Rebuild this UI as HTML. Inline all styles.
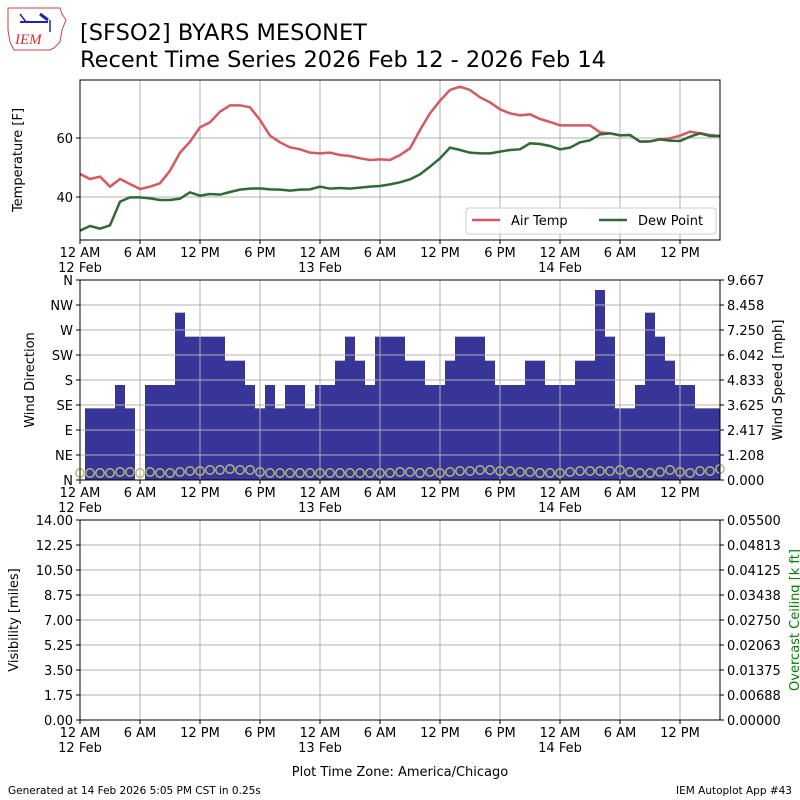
<!DOCTYPE html>
<html><head><meta charset="utf-8"><style>
html,body{margin:0;padding:0;background:#fff;}
svg{display:block;font-family:"DejaVu Sans","Liberation Sans",sans-serif;}
</style></head><body>
<svg id="s" width="800" height="800" viewBox="0 0 800 800" xmlns="http://www.w3.org/2000/svg">
<rect width="800" height="800" fill="#fff"/>
<g>
<path d="M8,8 L60,8 L62,14 L66,20 L62,30 L60,42 L54,48 L50,50 L14,50 L10,42 L8,30 Z" fill="none" stroke="#d04040" stroke-width="1"/>
<line x1="20" y1="22" x2="48" y2="22" stroke="#2020c0" stroke-width="2"/>
<line x1="20" y1="14" x2="26" y2="22" stroke="#2020c0" stroke-width="1.5"/>
<line x1="40" y1="14" x2="48" y2="20" stroke="#2020c0" stroke-width="3"/>
<line x1="50" y1="20" x2="50" y2="32" stroke="#2020c0" stroke-width="1.5"/>
<text x="15" y="44" font-family="Liberation Serif,serif" font-style="italic" font-size="15" fill="#d03030">IEM</text>
</g>
<text x="80" y="40" font-size="22.5">[SFSO2] BYARS MESONET</text>
<text x="80" y="67" font-size="22.5">Recent Time Series 2026 Feb 12 - 2026 Feb 14</text>
<g id="g"></g>
<text x="8" y="794" font-size="10.5">Generated at 14 Feb 2026 5:05 PM CST in 0.25s</text>
<text x="792" y="794" font-size="10.5" text-anchor="end">IEM Autoplot App #43</text>
<text x="400" y="776" font-size="13" text-anchor="middle">Plot Time Zone: America/Chicago</text>
</svg>
<script>
const NS="http://www.w3.org/2000/svg",G=document.getElementById('g');
function el(t,a,txt){const e=document.createElementNS(NS,t);for(const k in a)e.setAttribute(k,a[k]);if(txt!==undefined)e.textContent=txt;G.appendChild(e);return e;}
const X0=80,X1=720;
const xl=["12 AM","6 AM","12 PM","6 PM","12 AM","6 AM","12 PM","6 PM","12 AM","6 AM","12 PM"];
const dl={0:"12 Feb",4:"13 Feb",8:"14 Feb"};
function panel(y0,y1,lticks){
  for(let i=0;i<11;i++){const x=X0+60*i;el('line',{x1:x,y1:y0,x2:x,y2:y1,stroke:'#b0b0b0','stroke-width':1});}
  lticks.forEach(t=>{el('line',{x1:X0,y1:t[0],x2:X1,y2:t[0],stroke:'#b0b0b0','stroke-width':1});});
}
function frame(y0,y1,lticks,rticks){
  el('rect',{x:X0,y:y0,width:X1-X0,height:y1-y0,fill:'none',stroke:'#000','stroke-width':1});
  for(let i=0;i<11;i++){const x=X0+60*i;el('line',{x1:x,y1:y1,x2:x,y2:y1+4,stroke:'#000'});
    el('text',{x:x,y:y1+17,'font-size':13,'text-anchor':'middle'},xl[i]);
    if(dl[i])el('text',{x:x,y:y1+32,'font-size':13,'text-anchor':'middle'},dl[i]);}
  lticks.forEach(t=>{el('line',{x1:X0-4,y1:t[0],x2:X0,y2:t[0],stroke:'#000'});el('text',{x:X0-7,y:t[0]+5,'font-size':13,'text-anchor':'end'},t[1]);});
  if(rticks)rticks.forEach(t=>{el('line',{x1:X1,y1:t[0],x2:X1+4,y2:t[0],stroke:'#000'});el('text',{x:X1+7,y:t[0]+5,'font-size':13},t[1]);});
}
const t1=[[197,"40"],[138,"60"]];
panel(80,240,t1);
const air1=[282,297,290,320,297,312,327,320,310,272,218,185,142,127,95,76,76,82,120,167,187,202,208,218,220,218,225,228,235,240,238,240,225];
const air2=[205,150,100,62,30,20,30,52,67,88,100,106,103,117,126,136,136,136,136,157,160,166,165,185,184,178,175,167,155,160,165,168];
const dew1=[452,438,446,436,365,352,352,355,360,360,356,337,347,342,344,336,329,326,325,328,329,332,329,328,320,326,324,326,323,320,318,313,307];
const dew2=[298,283,260,235,203,210,218,220,220,215,210,208,190,192,198,208,203,187,181,163,160,166,165,185,184,178,182,183,170,160,168,168];
function pts(a,b){const p=[];a.forEach((z,i)=>p.push([80+i*10,80+z/3]));b.forEach((z,i)=>p.push([80+(33+i)*10,80+z/3]));return p.map(q=>q.join(',')).join(' ');}
el('polyline',{points:pts(air1,air2),fill:'none',stroke:'#d9575f','stroke-width':2.5});
el('polyline',{points:pts(dew1,dew2),fill:'none',stroke:'#2f6a35','stroke-width':2.5});
frame(80,240,t1);
el('rect',{x:466,y:208,width:250,height:26,rx:3,fill:'#fff','fill-opacity':0.8,stroke:'#ccc'});
el('line',{x1:472,y1:220,x2:500,y2:220,stroke:'#d9575f','stroke-width':2.5});
el('text',{x:511,y:225,'font-size':13},'Air Temp');
el('line',{x1:599,y1:220,x2:627,y2:220,stroke:'#2f6a35','stroke-width':2.5});
el('text',{x:638,y:225,'font-size':13},'Dew Point');
el('text',{transform:'translate(22,160) rotate(-90)','font-size':13,'text-anchor':'middle'},'Temperature [F]');
const dirs=["N","NE","E","SE","S","SW","W","NW","N"];
const t2=dirs.map((d,i)=>[480-25*i,d]);
const sp=["0.000","1.208","2.417","3.625","4.833","6.042","7.250","8.458","9.667"];
const r2=sp.map((d,i)=>[480-25*i,d]);
panel(280,480,t2);
const L={a:385,b:315,c:242,d:170,e:98,f:30};
const seq="aaab a_bbbedddd ccbababbabbcdcbddd ccbbcdddcbbbccbbbccfdaabedcbbaaa".replace(/ /g,'');
let h=1;
for(const ch of seq){ if(ch!=='_'){const top=280+L[ch]/3;const x0=Math.max(80,80+10*h-5),x1=Math.min(720,80+10*h+5);
  el('rect',{x:x0,y:top,width:x1-x0,height:480-top,fill:'#373597'});} h++;}
for(let i=1;i<8;i++)el('line',{x1:X0,y1:480-25*i,x2:X1,y2:480-25*i,stroke:'#b0b0b0','stroke-width':1});
for(let i=1;i<11;i++){const x=X0+60*i;el('line',{x1:x,y1:280,x2:x,y2:480,stroke:'#b0b0b0','stroke-width':1});}
const cy=[473,473,473,473,472,472,473,472,473,473,472,471,471,470,470,469,470,470,472,473,473,473,473,473,473,473,473,473,473,473,473,473,472,472,473,472,473,472,471,471,470,470,471,471,472,472,473,473,473,472,471,471,471,471,470,472,473,473,472,470,472,473,471,471,469,468];
for(let i=0;i<65;i++)el('circle',{cx:80+10*i,cy:cy[i]||472,r:4.2,fill:'none',stroke:'#b5b57a','stroke-width':1.5});
frame(280,480,t2,r2);
el('text',{transform:'translate(34,380) rotate(-90)','font-size':13,'text-anchor':'middle'},'Wind Direction');
el('text',{transform:'translate(782,380) rotate(-90)','font-size':13,'text-anchor':'middle'},'Wind Speed [mph]');
const vl=["0.00","1.75","3.50","5.25","7.00","8.75","10.50","12.25","14.00"];
const t3=vl.map((d,i)=>[720-25*i,d]);
const cl=["0.00000","0.00688","0.01375","0.02063","0.02750","0.03438","0.04125","0.04813","0.05500"];
const r3=cl.map((d,i)=>[720-25*i,d]);
panel(520,720,t3);
frame(520,720,t3,r3);
el('text',{transform:'translate(18,620) rotate(-90)','font-size':13,'text-anchor':'middle'},'Visibility [miles]');
el('text',{transform:'translate(799,620) rotate(-90)','font-size':13,'text-anchor':'middle',fill:'green'},'Overcast Ceiling [k ft]');
</script>
</body></html>
